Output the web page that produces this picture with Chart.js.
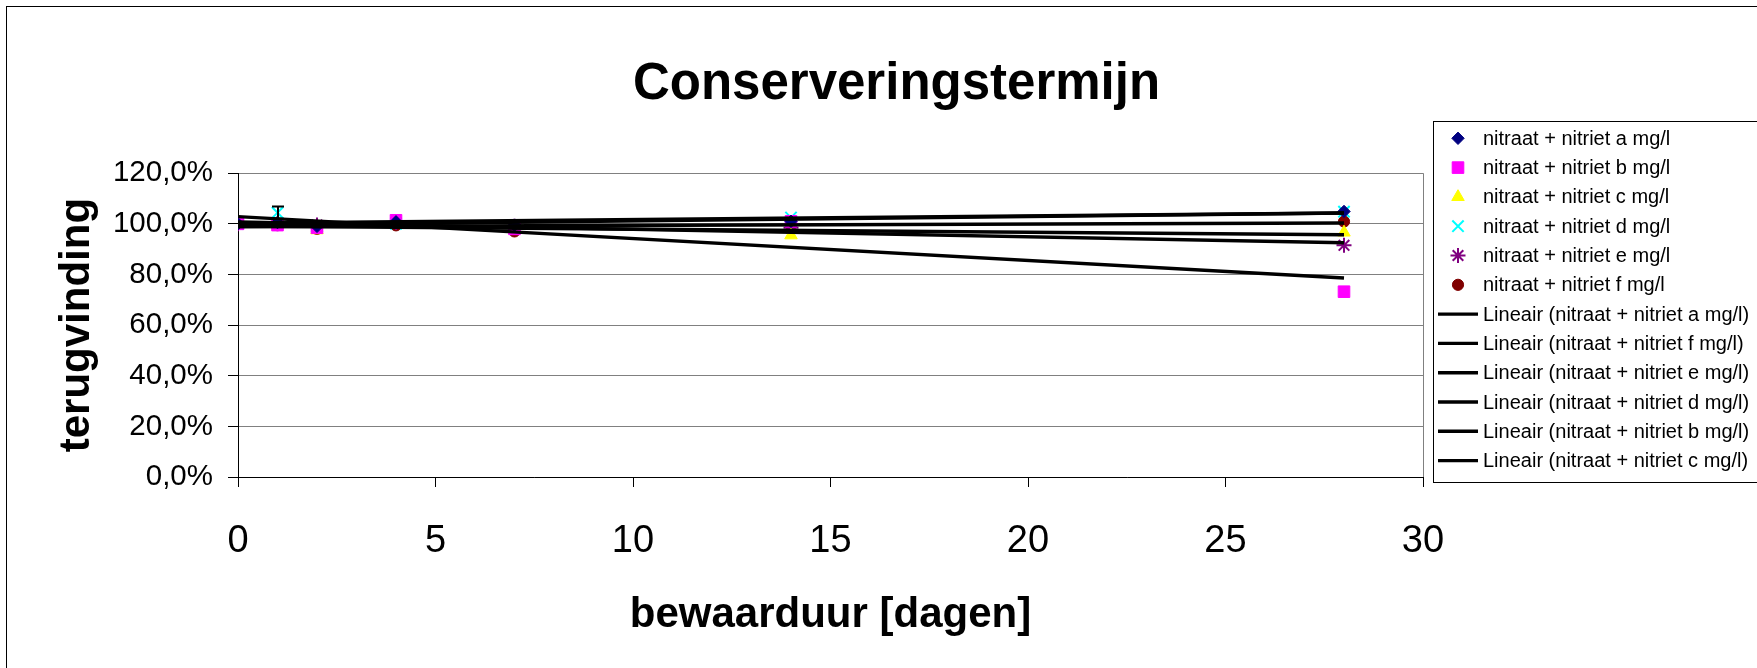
<!DOCTYPE html>
<html><head><meta charset="utf-8">
<script src="https://cdn.jsdelivr.net/npm/chart.js@4/dist/chart.umd.min.js"></script>
<style>html,body{margin:0;padding:0;background:#fff}#wrap{width:1757px;height:668px;position:relative;overflow:hidden}</style>
</head><body><div id="wrap"><canvas id="c" width="1757" height="668"></canvas></div>
<script>
// ---- data (percent recovery per storage day) ----
const days = [0, 1, 2, 4, 7, 14, 28];
const valuesA = [100, 100.5, 99.0, 100.8, 99.5, 101.0, 104.9];
const valuesB = [100, 99.5, 98.5, 101.4, 98.0, 101.0, 73.2];
const valuesC = [100, 99.5, 97.5, 100.0, 98.0, 95.5, 96.6];
const valuesD = [100, 104.4, 99.0, 100.0, 99.0, 102.5, 104.8];
const valuesE = [100, 100.0, 99.5, 100.5, 99.0, 98.5, 91.5];
const valuesF = [100, 100.0, 98.0, 99.4, 97.0, 99.5, 100.9];
const errorD  = [0, 2.4, 0, 0, 0, 0, 0];
const seriesLabels = ['nitraat + nitriet a mg/l','nitraat + nitriet b mg/l','nitraat + nitriet c mg/l',
                      'nitraat + nitriet d mg/l','nitraat + nitriet e mg/l','nitraat + nitriet f mg/l'];
const trendOrder = [0, 5, 4, 3, 1, 2]; // a, f, e, d, b, c
const xTickValues = [0, 5, 10, 15, 20, 25, 30];
const yTickValues = [0, 20, 40, 60, 80, 100, 120];

const allValues = [valuesA, valuesB, valuesC, valuesD, valuesE, valuesF];
const styles = [
  {pointStyle:'rectRot', radius:6.2, bg:'#000080', bc:'#000080', bw:1},
  {pointStyle:'rect', radius:8.2, bg:'#FF00FF', bc:'#FF00FF', bw:1},
  {pointStyle:'triangle', radius:7.2, bg:'#FFFF00', bc:'#FFFF00', bw:1},
  {pointStyle:'crossRot', radius:8, bg:'#00FFFF', bc:'#00FFFF', bw:2},
  {pointStyle:'star', radius:7.5, bg:'#800080', bc:'#800080', bw:2},
  {pointStyle:'circle', radius:5.6, bg:'#800000', bc:'#800000', bw:1}
];

function linreg(xs, ys) {
  const n = xs.length;
  const mx = xs.reduce((a,b)=>a+b,0)/n, my = ys.reduce((a,b)=>a+b,0)/n;
  let sxy = 0, sxx = 0;
  for (let i=0;i<n;i++){ sxy += (xs[i]-mx)*(ys[i]-my); sxx += (xs[i]-mx)*(xs[i]-mx); }
  const m = sxy/sxx; return {m, b: my - m*mx};
}

const datasets = [];
allValues.forEach((vals, i) => {
  const s = styles[i];
  datasets.push({
    type:'scatter', label: seriesLabels[i],
    data: days.map((d, k) => ({x: d, y: vals[k]})),
    pointStyle: s.pointStyle, pointRadius: s.radius, pointHoverRadius: s.radius,
    backgroundColor: s.bg, borderColor: s.bc, pointBorderWidth: s.bw, borderWidth: s.bw,
    showLine:false, order: 1
  });
});
trendOrder.forEach(i => {
  const r = linreg(days, allValues[i]);
  const x0 = days[0], x1 = days[days.length-1];
  datasets.push({
    type:'line', label: 'Lineair (' + seriesLabels[i] + ')',
    data: [{x:x0, y:r.b + r.m*x0}, {x:x1, y:r.b + r.m*x1}],
    borderColor:'#000', backgroundColor:'#000', borderWidth:3.4,
    pointRadius:0, pointHoverRadius:0, fill:false, tension:0, order:0
  });
});

const FONT = '"Liberation Sans", Arial, Helvetica, sans-serif';
Chart.defaults.font.family = FONT;
Chart.defaults.color = '#000';

const decor = {
  id:'decor',
  afterDatasetsDraw(chart) {
    const ctx = chart.ctx, xs = chart.scales.x, ys = chart.scales.y;
    ctx.save();
    ctx.strokeStyle = '#000'; ctx.lineWidth = 2;
    days.forEach((d, k) => {
      const e = errorD[k]; if (!e) return;
      const px = Math.round(xs.getPixelForValue(d));
      const top = ys.getPixelForValue(valuesD[k] + e), bot = ys.getPixelForValue(valuesD[k] - e);
      ctx.beginPath();
      ctx.moveTo(px, top); ctx.lineTo(px, bot);
      ctx.moveTo(px-6, top); ctx.lineTo(px+6, top);
      ctx.moveTo(px-6, bot); ctx.lineTo(px+6, bot);
      ctx.stroke();
    });
    ctx.restore();
  },
  afterDraw(chart) {
    const ctx = chart.ctx, ca = chart.chartArea;
    ctx.save();
    // plot area right border
    ctx.strokeStyle = '#808080'; ctx.lineWidth = 1;
    ctx.beginPath(); ctx.moveTo(Math.round(ca.right)+0.5, ca.top); ctx.lineTo(Math.round(ca.right)+0.5, ca.bottom); ctx.stroke();
    // outer frame
    ctx.strokeStyle = '#000'; ctx.lineWidth = 1;
    ctx.strokeRect(6.5, 6.5, 1800, 700);
    // legend box
    const lx = 1433.5, ly = 121.5, lw = 400, lh = 361;
    ctx.fillStyle = '#fff'; ctx.fillRect(lx, ly, lw, lh);
    ctx.strokeStyle = '#000'; ctx.strokeRect(lx, ly, lw, lh);
    const rowH = 29.3, y0 = 138.3;
    chart.data.datasets.forEach((ds, i) => {
      const y = y0 + i*rowH;
      if (ds.type === 'line') {
        ctx.strokeStyle = '#000'; ctx.lineWidth = 3.4;
        ctx.beginPath(); ctx.moveTo(1438, y); ctx.lineTo(1478, y); ctx.stroke();
      } else {
        ctx.fillStyle = ds.backgroundColor; ctx.strokeStyle = ds.borderColor; ctx.lineWidth = ds.pointBorderWidth;
        Chart.helpers.drawPoint(ctx, {pointStyle: ds.pointStyle, radius: ds.pointRadius, rotation: 0, borderWidth: ds.pointBorderWidth}, 1458, y);
      }
      ctx.fillStyle = '#000'; ctx.font = '20px ' + FONT; ctx.textBaseline = 'middle'; ctx.textAlign = 'left';
      ctx.fillText(ds.label, 1483, y + 1);
    });
    ctx.restore();
  }
};

new Chart(document.getElementById('c'), {
  type:'scatter',
  data:{datasets},
  plugins:[decor],
  options:{
    responsive:false, animation:false, devicePixelRatio:1,
    layout:{padding:{left:36, right:0, top:0, bottom:0}},
    plugins:{
      legend:{display:false}, tooltip:{enabled:false},
      title:{display:true, text:'Conserveringstermijn', color:'#000',
             font:{size:51, weight:'bold', lineHeight:1.2}, padding:{top:54.5, bottom:57.5}}
    },
    scales:{
      x:{type:'linear', min:0, max:30,
         afterBuildTicks: s => { s.ticks = xTickValues.map(v => ({value:v})); },
         ticks:{font:{size:38}, color:'#000', padding:32, maxRotation:0},
         grid:{drawOnChartArea:false, tickLength:10, tickColor:'#000', color:'#000'},
         border:{color:'#000', width:1},
         title:{display:true, text:'bewaarduur [dagen]', color:'#000', font:{size:42, weight:'bold', lineHeight:1.2}, padding:{top:0, bottom:27.5}},
         afterFit: s => { s.height = 191; }
      },
      y:{min:0, max:120,
         afterBuildTicks: s => { s.ticks = yTickValues.map(v => ({value:v})); },
         ticks:{font:{size:29.5}, color:'#000', padding:15,
                callback: v => v.toFixed(1).replace('.', ',') + '%'},
         grid:{color:'#808080', tickColor:'#000', tickLength:10},
         border:{color:'#000', width:1},
         title:{display:true, text:'terugvinding', color:'#000', font:{size:42, weight:'bold', lineHeight:1.2}, padding:{top:16.5, bottom:0}},
         afterFit: s => { s.width = 202; }
      },
      yRightSpace:{type:'linear', position:'right', display:true, min:0, max:1,
         ticks:{display:false}, grid:{display:false, drawTicks:false}, border:{display:false},
         afterFit: s => { s.width = 334; }
      }
    }
  }
});
</script></body></html>
